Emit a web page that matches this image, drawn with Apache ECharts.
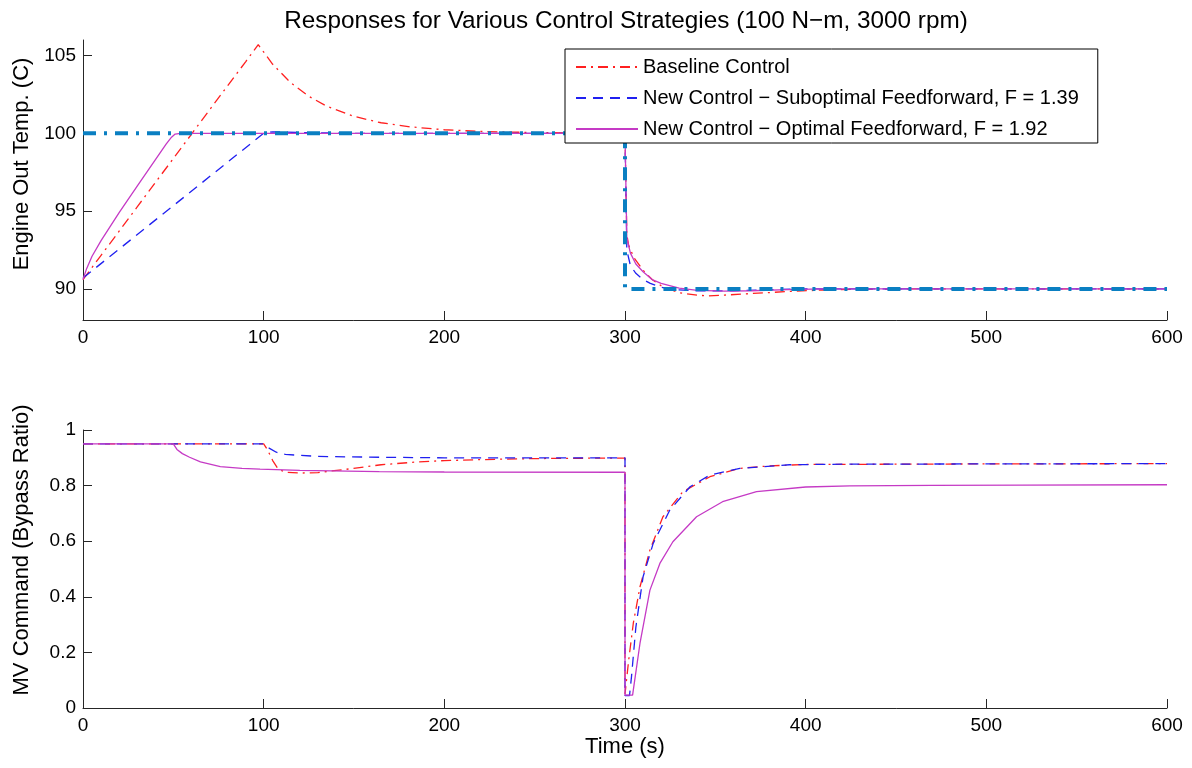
<!DOCTYPE html>
<html><head><meta charset="utf-8">
<script src="https://cdn.jsdelivr.net/npm/echarts@6/dist/echarts.min.js"></script>
<style>html,body{margin:0;padding:0;background:#fff}#c{width:1192px;height:768px}</style>
</head><body><div id="c"></div><script>
// ---------- DATA ----------
const seriesNames = ['Baseline Control', 'New Control \u2212 Suboptimal Feedforward, F = 1.39', 'New Control \u2212 Optimal Feedforward, F = 1.92'];
const xTicks = [0, 100, 200, 300, 400, 500, 600];
const tempTicks = [90, 95, 100, 105];

// Setpoint (top)
const spT = [0, 300, 300, 600];
const spY = [100, 100, 90, 90];

// Engine out temperature - baseline
const tBaseT = [0, 10, 20, 30, 40, 50, 60, 70, 80, 90, 97, 105, 115, 125, 135, 150, 165, 180, 200, 220, 250, 300, 301, 302, 305, 310, 315, 320, 330, 340, 345, 355, 370, 390, 410, 430, 460, 600];
const tBaseY = [90.6, 92.16, 93.71, 95.27, 96.83, 98.38, 99.94, 101.5, 103.05, 104.6, 105.7, 104.44, 103.25, 102.38, 101.74, 101.09, 100.68, 100.43, 100.23, 100.12, 100.05, 100, 93.5, 92.8, 92.0, 91.2, 90.6, 90.2, 89.75, 89.6, 89.55, 89.6, 89.7, 89.83, 89.93, 89.98, 90, 90];
// Engine out temperature - suboptimal feedforward
const tSubT = [0, 100, 105, 120, 150, 300, 301, 303, 306, 310, 314, 320, 327, 340, 360, 380, 400, 600];
const tSubY = [90.7, 100, 100.1, 100.05, 100, 100, 92.5, 91.5, 91.0, 90.6, 90.35, 90.1, 89.95, 89.87, 89.88, 89.95, 90, 90];
// Engine out temperature - optimal feedforward
const tOptT = [0, 2, 5, 10, 20, 30, 40, 46, 49, 51, 54, 300, 301, 303, 306, 310, 315, 320, 330, 340, 355, 370, 390, 410, 600];
const tOptY = [90.6, 91.3, 92.1, 93.1, 94.9, 96.6, 98.3, 99.3, 99.75, 99.95, 100, 100, 93.3, 92.3, 91.6, 91.1, 90.6, 90.35, 90.05, 89.9, 89.85, 89.88, 89.95, 90, 90];

// MV command - baseline
const mBaseT = [0, 100, 102, 105, 108, 112, 120, 130, 145, 165, 185, 200, 230, 260, 300, 300, 301, 302, 304.6, 308.3, 313.8, 321, 332, 347, 363.6, 380, 400, 450, 500, 600];
const mBaseY = [0.95, 0.95, 0.93, 0.89, 0.86, 0.848, 0.845, 0.847, 0.858, 0.875, 0.885, 0.89, 0.895, 0.898, 0.899, 0.05, 0.045, 0.17, 0.305, 0.436, 0.568, 0.688, 0.778, 0.832, 0.862, 0.871, 0.876, 0.877, 0.878, 0.879];
// MV command - suboptimal feedforward
const mSubT = [0, 100, 103, 107, 112, 130, 164, 200, 300, 300, 302.5, 303.6, 306, 310, 315.6, 324.8, 336, 347, 363.6, 391, 420, 500, 600];
const mSubY = [0.95, 0.95, 0.935, 0.92, 0.912, 0.905, 0.902, 0.9, 0.9, 0.045, 0.045, 0.113, 0.29, 0.472, 0.592, 0.712, 0.796, 0.838, 0.862, 0.875, 0.877, 0.878, 0.879];
// MV command - optimal feedforward
const mOptT = [0, 50, 52, 55, 59, 65, 76, 88, 98, 120, 164, 200, 300, 300, 304.2, 308.3, 313.8, 319.3, 326.5, 339.6, 354, 372.8, 400, 424.5, 470, 520, 600];
const mOptY = [0.95, 0.95, 0.93, 0.915, 0.902, 0.885, 0.868, 0.862, 0.859, 0.855, 0.85, 0.849, 0.848, 0.046, 0.046, 0.233, 0.424, 0.52, 0.598, 0.688, 0.742, 0.778, 0.795, 0.799, 0.801, 0.802, 0.803];

// ---------- CHART ----------
const zip = (a, b) => a.map((v, i) => [v, b[i]]);
const colors = ['#ff2020', '#2020f0', '#c53ac5'];
const dashes = [[10, 5, 2, 5], [10, 7], 'solid'];
const FONT = 'Liberation Sans, Arial, sans-serif';
const axisCol = '#262626';

function xAx(idx, name) {
  return {
    type: 'value', gridIndex: idx, min: 0, max: 600, interval: 100,
    splitLine: {show: false},
    axisLine: {show: true, lineStyle: {color: axisCol, width: 1}},
    axisTick: {show: true, inside: true, length: 9, lineStyle: {color: axisCol}},
    axisLabel: {color: '#000', fontSize: 19, fontFamily: FONT, margin: 8},
    name: name || '', nameLocation: 'middle', nameGap: 26,
    nameTextStyle: {color: '#000', fontSize: 22, fontFamily: FONT}
  };
}

const chart = echarts.init(document.getElementById('c'), null, {renderer: 'canvas'});
const lineSeries = [];
const sets = [[zip(tBaseT, tBaseY), zip(mBaseT, mBaseY)], [zip(tSubT, tSubY), zip(mSubT, mSubY)], [zip(tOptT, tOptY), zip(mOptT, mOptY)]];
for (let k = 0; k < 3; k++) {
  for (let g = 0; g < 2; g++) {
    lineSeries.push({
      name: seriesNames[k], type: 'line', xAxisIndex: g, yAxisIndex: g,
      data: sets[k][g], showSymbol: false, symbol: 'none', animation: false,
      color: colors[k],
      lineStyle: {color: colors[k], width: 1.3, type: dashes[k]},
      z: 3
    });
  }
}
lineSeries.unshift({
  name: 'Setpoint', type: 'line', xAxisIndex: 0, yAxisIndex: 0,
  data: zip(spT, spY), showSymbol: false, symbol: 'none', animation: false,
  lineStyle: {color: '#0a7fc2', width: 4, type: [13, 8, 3, 8]}, z: 4
});

chart.setOption({
  animation: false,
  backgroundColor: '#fff',
  title: {
    text: 'Responses for Various Control Strategies (100 N\u2212m, 3000 rpm)',
    left: 621, textAlign: 'center', top: 4,
    textStyle: {fontSize: 24.3, fontWeight: 'normal', color: '#000', fontFamily: FONT}
  },
  legend: {
    data: seriesNames, orient: 'vertical', left: 565, top: 49,
    padding: [8, 19, 4, 10], itemGap: 11, itemWidth: 62, itemHeight: 20,
    backgroundColor: '#fff', borderColor: '#000', borderWidth: 1,
    itemStyle: {opacity: 0},
    textStyle: {fontSize: 20, color: '#000', fontFamily: FONT},
    z: 10
  },
  grid: [
    {left: 83, right: 25, top: 40, height: 280},
    {left: 83, right: 25, top: 430, height: 278}
  ],
  xAxis: [xAx(0), xAx(1, 'Time (s)')],
  yAxis: [
    {
      type: 'value', gridIndex: 0, min: 88, max: 106,
      splitLine: {show: false},
      axisLine: {show: true, lineStyle: {color: axisCol}},
      axisTick: {show: true, inside: true, length: 9, lineStyle: {color: axisCol}, customValues: tempTicks},
      axisLabel: {color: '#000', fontSize: 19, fontFamily: FONT, margin: 7, customValues: tempTicks},
      name: 'Engine Out Temp. (C)', nameLocation: 'middle', nameGap: 50,
      nameTextStyle: {color: '#000', fontSize: 22, fontFamily: FONT, padding: [0, 0, 0, 32]}
    },
    {
      type: 'value', gridIndex: 1, min: 0, max: 1, interval: 0.2,
      splitLine: {show: false},
      axisLine: {show: true, lineStyle: {color: axisCol}},
      axisTick: {show: true, inside: true, length: 9, lineStyle: {color: axisCol}},
      axisLabel: {color: '#000', fontSize: 19, fontFamily: FONT, margin: 7},
      name: 'MV Command (Bypass Ratio)', nameLocation: 'middle', nameGap: 50,
      nameTextStyle: {color: '#000', fontSize: 22, fontFamily: FONT, padding: [0, 0, 0, 38]}
    }
  ],
  series: lineSeries
});
</script></body></html>
